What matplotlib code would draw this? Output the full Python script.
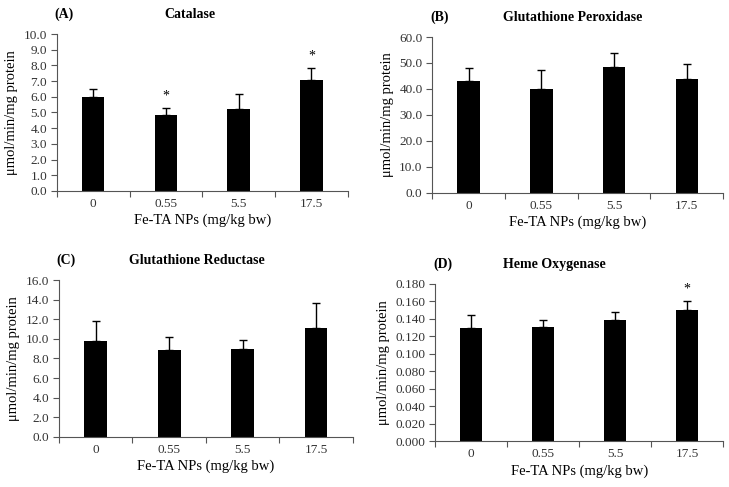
import numpy as np
import matplotlib
matplotlib.use("Agg")
import matplotlib.pyplot as plt

doses = ["0", "0.55", "5.5", "17.5"]

catalase = [6.0, 4.85, 5.2, 7.05]
catalase_err = [0.5, 0.45, 1.0, 0.8]
catalase_sig = [False, True, False, True]

gpx = [43.2, 40.1, 48.4, 43.7]
gpx_err = [4.8, 7.1, 5.5, 6.0]
gpx_sig = [False, False, False, False]

gr = [9.8, 8.9, 9.0, 11.15]
gr_err = [2.05, 1.25, 0.9, 2.55]
gr_sig = [False, False, False, False]

ho = [0.130, 0.131, 0.139, 0.150]
ho_err = [0.015, 0.008, 0.009, 0.010]
ho_sig = [False, False, False, True]

plt.rcParams['font.family'] = ['Liberation Serif', 'DejaVu Serif']

panels = [
    ("(A)", "Catalase", catalase, catalase_err, catalase_sig, 10.0, 1.0, "{:.1f}",
     [0.078, 0.608, 0.399, 0.322], 0.26),
    ("(B)", "Glutathione Peroxidase", gpx, gpx_err, gpx_sig, 60.0, 10.0, "{:.1f}",
     [0.593, 0.604, 0.399, 0.320], 0.785),
    ("(C)", "Glutathione Reductase", gr, gr_err, gr_sig, 16.0, 2.0, "{:.1f}",
     [0.081, 0.103, 0.403, 0.322], 0.27),
    ("(D)", "Heme Oxygenase", ho, ho_err, ho_sig, 0.180, 0.020, "{:.3f}",
     [0.597, 0.094, 0.395, 0.323], 0.76),
]

fig = plt.figure(figsize=(7.29, 4.87), dpi=100)

for tag, title, vals, errs, sig, ymax, step, fmt, pos, tx in panels:
    ax = fig.add_axes(pos)
    x = np.arange(len(doses))
    ax.bar(x, vals, width=0.31, color="black", zorder=2)
    ax.errorbar(x, vals, yerr=[np.zeros(len(vals)), errs], fmt="none",
                ecolor="black", elinewidth=1.0, capsize=3, capthick=1.0, zorder=3)
    for i, s in enumerate(sig):
        if s:
            ax.text(x[i], vals[i] + errs[i] + ymax * 0.035, "*", ha="center",
                    va="bottom", fontsize=10)
    ax.set_xlim(-0.5, len(doses) - 0.5)
    ax.set_ylim(0, ymax)
    yt = np.arange(0, ymax + step / 2, step)
    ax.set_yticks(yt)
    ax.set_yticklabels([fmt.format(v) for v in yt], fontsize=9.5, color="#333333")
    ax.set_xticks(x)
    ax.set_xticklabels(doses, fontsize=9.5, color="#333333")
    ax.tick_params(axis="x", length=0, pad=5)
    ax.tick_params(axis="y", direction="out", length=4, width=0.8, color="#555555",
                   pad=3)
    ax.set_xticks(np.arange(-0.5, len(doses)), minor=True)
    ax.tick_params(axis="x", which="minor", direction="out", length=4, width=0.8,
                   color="#555555")
    for s in ["top", "right"]:
        ax.spines[s].set_visible(False)
    for s in ["left", "bottom"]:
        ax.spines[s].set_color("#555555")
        ax.spines[s].set_linewidth(0.8)
    ax.set_ylabel("\u03bcmol/min/mg protein", fontsize=10.5, labelpad=4)
    ax.set_xlabel("Fe-TA NPs (mg/kg bw)", fontsize=10.5, labelpad=3)
    top = pos[1] + pos[3]
    fig.text(pos[0] - 0.003, top + 0.04, tag, fontsize=10, fontweight="bold",
             ha="left", va="center")
    fig.text(tx, top + 0.04, title, fontsize=10, fontweight="bold",
             ha="center", va="center")

fig.savefig("out.png", dpi=100)
